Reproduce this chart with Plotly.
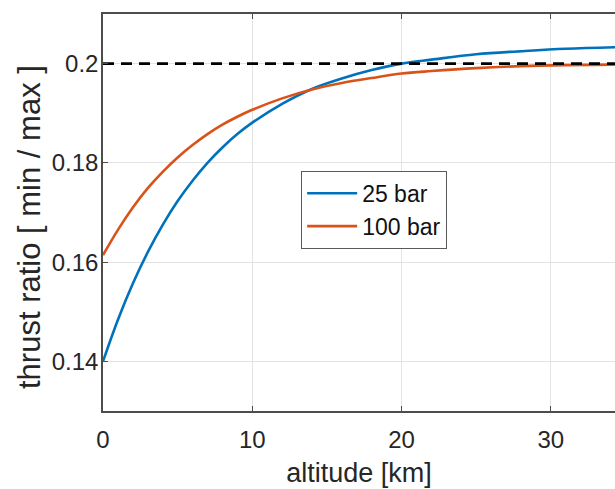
import plotly.graph_objects as go

# altitude [km]
altitude = [0, 1, 2, 3, 4, 5, 6, 7, 8, 9, 10, 12, 14, 16, 18, 20, 22, 25, 28, 31, 34.3]
# thrust ratio, 25 bar chamber pressure
ratio_25bar = [0.1400, 0.1484, 0.1557, 0.1620, 0.1675, 0.1723, 0.1764, 0.1800, 0.1831,
               0.1858, 0.1881, 0.1919, 0.1949, 0.1970, 0.1987, 0.2000, 0.2008, 0.2019,
               0.2025, 0.2030, 0.2033]
# thrust ratio, 100 bar chamber pressure
ratio_100bar = [0.1614, 0.1665, 0.1710, 0.1749, 0.1782, 0.1811, 0.1836, 0.1858, 0.1877,
                0.1893, 0.1907, 0.1930, 0.1948, 0.1961, 0.1971, 0.1980, 0.1985, 0.1991,
                0.1995, 0.1997, 0.1998]
# reference level
ref_x = [0, 34.3]
ref_y = [0.2, 0.2]

x_ticks = [0, 10, 20, 30]
y_ticks = [0.14, 0.16, 0.18, 0.2]
y_ticklabels = ["0.14", "0.16", "0.18", "0.2"]

FONT = "Liberation Sans, Arial, sans-serif"
TXT = "#262626"

fig = go.Figure()
fig.add_trace(go.Scatter(x=altitude, y=ratio_25bar, mode="lines", name="25 bar",
                         line=dict(color="#0072BD", width=2.6, shape="spline")))
fig.add_trace(go.Scatter(x=altitude, y=ratio_100bar, mode="lines", name="100 bar",
                         line=dict(color="#D95319", width=2.6, shape="spline")))
fig.add_trace(go.Scatter(x=ref_x, y=ref_y, mode="lines", showlegend=False,
                         line=dict(color="black", width=2.8, dash="11px,7px")))

fig.update_layout(
    width=615, height=489,
    margin=dict(l=103, r=0, t=14, b=78),
    paper_bgcolor="white", plot_bgcolor="white",
    font=dict(family=FONT, size=24, color=TXT),
    legend=dict(x=0.387, y=0.605, xanchor="left", yanchor="top",
                bgcolor="white", bordercolor="#5a5a5a", borderwidth=1,
                itemwidth=50,
                font=dict(size=23, color="#111111")),
    annotations=[dict(
        text="thrust ratio [ min / max ]", textangle=-90,
        xref="paper", yref="paper",
        x=(30 - 103) / 512, y=(411 - 227) / 397,
        xanchor="center", yanchor="middle", showarrow=False,
        font=dict(size=31, color=TXT),
    )],
)
fig.update_xaxes(
    range=[0, 34.3], tickvals=x_ticks, ticks="inside", ticklen=5, tickcolor="#4d4d4d",
    showline=True, linecolor="#4d4d4d", linewidth=1.5, mirror="ticks",
    showgrid=True, gridcolor="#e3e3e3", gridwidth=1, zeroline=False,
    ticklabelstandoff=6,
    title=dict(text="altitude [km]", font=dict(size=27, color=TXT), standoff=12),
)
fig.update_yaxes(
    range=[0.13, 0.21], tickvals=y_ticks, ticktext=y_ticklabels, ticks="inside", ticklen=5,
    tickcolor="#4d4d4d", showline=True, linecolor="#4d4d4d", linewidth=1.5, mirror=False,
    showgrid=True, gridcolor="#e3e3e3", gridwidth=1, zeroline=False,
    ticklabelstandoff=-2,
)

fig.write_html("out.html")
